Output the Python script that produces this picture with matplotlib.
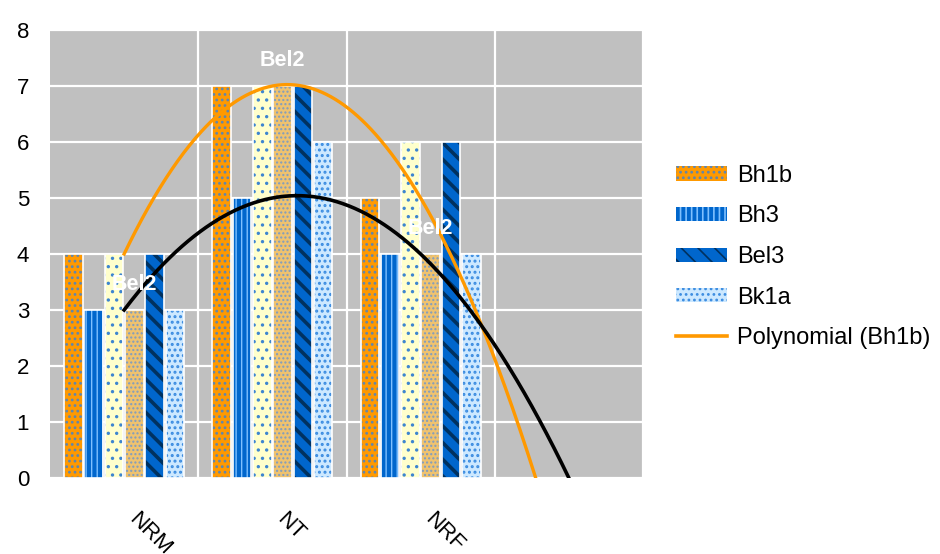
import numpy as np
import matplotlib
matplotlib.use("Agg")
import matplotlib.pyplot as plt
import matplotlib.transforms as mtransforms
from matplotlib.lines import Line2D
from matplotlib.patches import Patch

plt.rcParams['font.family'] = ['Liberation Sans', 'DejaVu Sans']
plt.rcParams['hatch.linewidth'] = 1.2

# Horizons sampled at each site
categories = ["NRM", "NT", "NRF"]
n_slots = 4  # extra empty slot holds the one-period trend forecast

bh1b = [4, 7, 5]
bh3 = [3, 5, 4]
bel1 = [4, 7, 6]
bel2 = [3, 7, 4]
bel3 = [4, 7, 6]
bk1a = [3, 6, 4]

series_names = ["Bh1b", "Bh3", "Bel1", "Bel2", "Bel3", "Bk1a"]
series_values = [bh1b, bh3, bel1, bel2, bel3, bk1a]
face_colors = ["#FF9900", "#0066CC", "#FFFFCC", "#EFC26E", "#0066CC", "#CCE8FF"]
hatch_colors = ["#5E86B0", "#7EC0FF", "#3D85D0", "#7E9CC0", "#00315F", "#3A8BE0"]
hatches = ["...", "|||", "..", "....", "\\\\", "..."]
hatch_widths = [1.2, 1.0, 1.2, 1.0, 2.6, 1.4]
in_legend = ["Bh1b", "Bh3", "Bel3", "Bk1a"]

fig = plt.figure(figsize=(9.4, 5.54), dpi=100)
ax = fig.add_axes([50 / 940, 76 / 554, 593 / 940, 448 / 554])
ax.set_facecolor("#C0C0C0")

x = np.arange(len(categories))
step = 0.137
width = 0.126
handles = []
for i, (name, vals) in enumerate(zip(series_names, series_values)):
    pos = x + (i - 2.5) * step
    bars = ax.bar(pos, vals, width, color=face_colors[i], edgecolor=hatch_colors[i],
                  hatch=hatches[i], linewidth=0, zorder=3)
    for b in bars:
        if hasattr(b, "set_hatch_linewidth"):
            b.set_hatch_linewidth(hatch_widths[i])
    ax.bar(pos, vals, width, fill=False, edgecolor="white", linewidth=1.2, zorder=4)
    if name in in_legend:
        h = Patch(facecolor=face_colors[i], edgecolor=hatch_colors[i],
                  hatch=hatches[i], linewidth=0, label=name)
        if hasattr(h, "set_hatch_linewidth"):
            h.set_hatch_linewidth(hatch_widths[i])
        handles.append(h)
    if name == "Bel2":
        for px, v in zip(pos, vals):
            ax.annotate(name, (px, v), xytext=(0, 18.5), textcoords="offset points",
                        ha="center", va="center", color="white", fontweight="bold",
                        fontsize=15.5, zorder=6)

# Second-order polynomial trendlines, forecast one period forward
xx = np.linspace(0, n_slots - 1, 300)
trend_bh1b = np.polyval(np.polyfit(x, bh1b, 2), xx)
trend_bh3 = np.polyval(np.polyfit(x, bh3, 2), xx)
ax.plot(xx, trend_bh1b, color="#FF9900", linewidth=2.4, zorder=5)
ax.plot(xx, trend_bh3, color="black", linewidth=2.6, zorder=5)
handles.append(Line2D([0], [0], color="#FF9900", linewidth=2.6, label="Polynomial (Bh1b)"))

ax.set_xlim(-0.5, n_slots - 0.5)
ax.set_ylim(0, 8)
ax.set_yticks(range(0, 9))
ax.set_xticks(np.arange(0.5, n_slots - 0.5, 1.0), minor=True)
ax.set_xticks([])
ax.grid(axis="y", color="white", linewidth=1.6, zorder=1)
ax.grid(axis="x", which="minor", color="white", linewidth=1.6, zorder=1)
ax.set_axisbelow(True)
for side in ["left", "top", "bottom"]:
    ax.spines[side].set_visible(False)
ax.spines["right"].set_color("white")
ax.spines["right"].set_linewidth(1.6)
ax.tick_params(axis="both", which="both", length=0)
ax.tick_params(axis="y", labelsize=16, pad=15)

# Rotated category labels below the plot area
lab_tf = mtransforms.offset_copy(ax.get_xaxis_transform(), fig=fig, x=15, y=-31, units="dots")
for xi, lab in zip(x, categories):
    ax.text(xi, 0, lab, transform=lab_tf, rotation=-45, rotation_mode="anchor",
            ha="left", va="top", fontsize=16)

leg = fig.legend(handles=handles, loc="center left",
                 bbox_to_anchor=(676 / 940, (554 - 257) / 554), frameon=False,
                 fontsize=17, handlelength=2.15, handleheight=0.55, handletextpad=0.42,
                 labelspacing=0.785, borderpad=0, borderaxespad=0)

fig.savefig("out.png", dpi=100)
